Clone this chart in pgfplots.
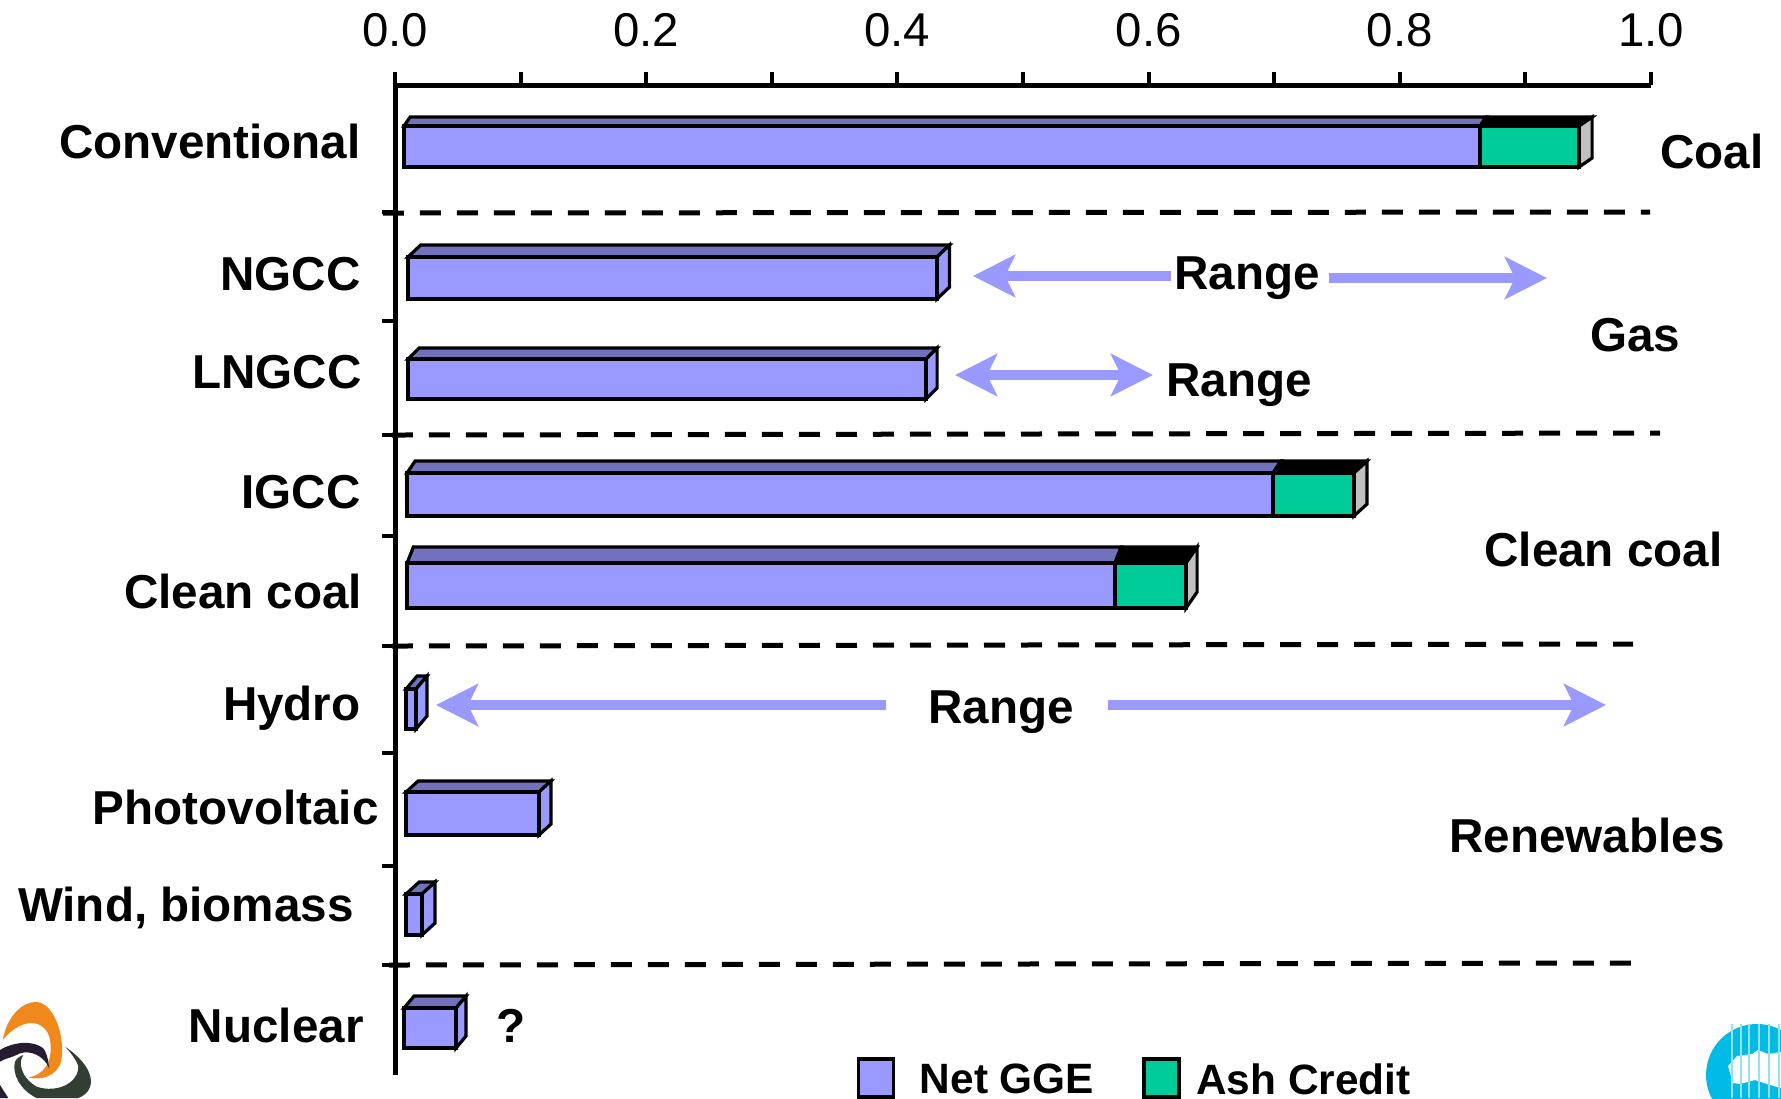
\documentclass[border=0pt]{standalone}
\usepackage{pgfplots}
\pgfplotsset{compat=1.18}
\usepackage{fontspec}
\setmainfont{Liberation Sans}
\usetikzlibrary{arrows.meta}

\definecolor{netgge}{HTML}{9999FF}
\definecolor{netggetop}{HTML}{7272BC}
\definecolor{ash}{HTML}{00CC99}
\definecolor{ashside}{HTML}{C0C0C0}
\definecolor{rangearrow}{HTML}{9999FF}

% Lengths on the page: one unit of the row scale is half a point.
\newcommand{\lbl}{\fontsize{23.8}{28}\selectfont\bfseries}

% Plain bar: x start, x end, row of front top, row of bottom, depth in x, depth in rows
\newcommand{\netbar}[6]{%
  \pgfmathsetmacro{\xl}{#1+#5}\pgfmathsetmacro{\xr}{#2+#5}%
  \pgfmathsetmacro{\yt}{#3-#6}\pgfmathsetmacro{\yb}{#4-#6}%
  \addplot[facet, fill=netggetop] coordinates {(#1,#3) (\xl,\yt) (\xr,\yt) (#2,#3)} --cycle;
  \addplot[facet, fill=netgge] coordinates {(#2,#3) (\xr,\yt) (\xr,\yb) (#2,#4)} --cycle;
  \addplot[facet, fill=netgge] coordinates {(#1,#3) (#2,#3) (#2,#4) (#1,#4)} --cycle;
}
% Two-part bar: x start, x split, x end, row of front top, row of bottom,
% depth in x, depth in rows, depth in x of the top face at its left end and at the split
\newcommand{\ashbar}[8]{%
  \pgfmathsetmacro{\xl}{#1+#8}\pgfmathsetmacro{\xm}{#2+#8}\pgfmathsetmacro{\xr}{#3+#6}%
  \pgfmathsetmacro{\yt}{#4-#7}\pgfmathsetmacro{\yb}{#5-#7}%
  \addplot[facet, fill=netggetop] coordinates {(#1,#4) (\xl,\yt) (\xm,\yt) (#2,#4)} --cycle;
  \addplot[facet, fill=black] coordinates {(#2,#4) (\xm,\yt) (\xr,\yt) (#3,#4)} --cycle;
  \addplot[facet, fill=ashside] coordinates {(#3,#4) (\xr,\yt) (\xr,\yb) (#3,#5)} --cycle;
  \addplot[facet, fill=netgge] coordinates {(#1,#4) (#2,#4) (#2,#5) (#1,#5)} --cycle;
  \addplot[facet, fill=ash] coordinates {(#2,#4) (#3,#4) (#3,#5) (#2,#5)} --cycle;
}

\begin{document}
\begin{tikzpicture}
\path[use as bounding box] (0,0) rectangle (890.5pt,-549pt);

\begin{axis}[
  at={(197.5pt,-42.5pt)}, anchor=north west,
  scale only axis, width=628pt, height=495pt,
  xmin=0, xmax=1, ymin=85, ymax=1075, y dir=reverse,
  clip=false,
  axis x line=top, axis y line=left,
  axis line style={-, line width=2.5pt},
  xtick={0,0.2,0.4,0.6,0.8,1},
  minor x tick num=1,
  ytick={212,321,435,536,646,753,866,965},
  yticklabels={},
  tick align=outside,
  major tick length=6.5pt, minor tick length=6.5pt,
  every tick/.style={black, line width=2pt},
  xticklabel style={font=\fontsize{23.7}{28}\selectfont, yshift=9pt},
  /pgf/number format/.cd, fixed, fixed zerofill, precision=1, assume math mode=true,
  /pgfplots/.cd,
  facet/.style={draw=black, line width=1.6pt, line join=miter, no markers},
  divider/.style={black, line width=2.5pt, dash pattern=on 10.5pt off 8pt, no markers},
  legend image code/.code={\draw[#1, line width=1.8pt] (0pt,-8.35pt) rectangle (17.5pt,10.65pt);},
  legend style={at={(axis cs:0.3625,1079.3)}, anchor=west, draw=none, fill=none,
    legend columns=2, font=\fontsize{21.2}{25}\selectfont\bfseries,
    /tikz/column 1/.style={column sep=10.3pt},
    /tikz/column 2/.style={column sep=22pt},
    /tikz/column 3/.style={column sep=5.7pt}},
  legend cell align=left,
]
\addlegendimage{fill=netgge, draw=black}
\addlegendentry{Net GGE}
\addlegendimage{fill=ash, draw=black}
\addlegendentry{Ash Credit}

% Separators between the plant families
\addplot[divider] coordinates {(-0.0096,213) (0.9992,212)};
\addplot[divider] coordinates {(-0.0024,435) (1.0072,433)};
\addplot[divider] coordinates {(-0.0024,646) (0.9857,644)};
\addplot[divider] coordinates {(-0.0048,965) (0.9857,963)};

% Bars
\ashbar{0.0072}{0.8639}{0.9427}{126}{167}{0.0104}{9}{0.0048}
\netbar{0.0104}{0.4315}{257}{299}{0.0100}{12}
\netbar{0.0104}{0.4228}{359}{399}{0.0088}{11}
\ashbar{0.0096}{0.6990}{0.7635}{473}{516}{0.0104}{12}{0.0064}
\ashbar{0.0096}{0.5732}{0.6298}{563}{608}{0.0088}{16}{0.0050}
\netbar{0.0088}{0.0167}{689}{729}{0.0088}{13}
\netbar{0.0088}{0.1146}{792}{835}{0.0096}{11}
\netbar{0.0088}{0.0215}{894}{935}{0.0104}{12}
\netbar{0.0072}{0.0486}{1008}{1048}{0.0080}{12}
\end{axis}

\begin{scope}[x=0.5pt, y=-0.5pt]
  % Category names
  \begin{scope}[every node/.style={inner sep=0pt, anchor=base east, font=\lbl}]
    \node at (361,158) {Conventional};
    \node at (361,290) {NGCC};
    \node at (362,388) {LNGCC};
    \node at (361,508) {IGCC};
    \node at (362.5,608) {Clean coal};
    \node at (361,720) {Hydro};
    \node at (379,824) {Photovoltaic};
    \node at (354,921) {Wind, biomass};
    \node at (364,1042) {Nuclear};
  \end{scope}
  % Family names, range notes
  \begin{scope}[every node/.style={inner sep=0pt, anchor=base west, font=\lbl}]
    \node at (1660,168.5) {Coal};
    \node at (1590,351) {Gas};
    \node at (1484,566) {Clean coal};
    \node at (1449,852) {Renewables};
    \node at (1174,289) {Range};
    \node at (1166,396) {Range};
    \node at (928,723) {Range};
    \node at (496,1042) {?};
  \end{scope}
  % Range arrows
  \begin{scope}[draw=rangearrow, line width=5pt,
      >={Stealth[length=21pt, width=21pt, inset=5pt]}]
    \draw[<-] (973,276) -- (1171,276);
    \draw[->] (1329,278) -- (1547,278);
    \draw[<->] (955,375) -- (1153,375);
    \draw[<-] (436,705) -- (886,705);
    \draw[->] (1108,705) -- (1606,705);
  \end{scope}

  % Emblem, lower left corner
  \begin{scope}
    \clip (0,990) rectangle (108,1098);
    \begin{scope}[shift={(0,990)}, x=0.1667pt, y=-0.1667pt]
      \fill[color={rgb,255:red,240;green,136;blue,28}]
        (8,150) .. controls (25,60) and (90,20) .. (130,42)
        .. controls (175,70) and (195,160) .. (183,215)
        .. controls (170,260) and (120,272) .. (85,262)
        .. controls (135,255) and (160,210) .. (150,150)
        .. controls (140,90) and (70,75) .. (8,150) -- cycle;
      \fill[color={rgb,255:red,38;green,28;blue,48}]
        (0,180) .. controls (40,155) and (100,150) .. (130,175)
        .. controls (145,195) and (145,225) .. (148,235)
        .. controls (130,195) and (90,180) .. (60,190)
        .. controls (30,205) and (15,205) .. (0,215) -- cycle;
      \fill[color={rgb,255:red,50;green,62;blue,52}]
        (195,170) .. controls (285,230) and (295,300) .. (235,324)
        -- (110,324) .. controls (60,300) and (35,250) .. (45,215)
        .. controls (50,205) and (60,198) .. (70,195)
        .. controls (55,215) and (60,260) .. (110,290)
        .. controls (170,310) and (235,280) .. (235,230)
        .. controls (230,210) and (210,185) .. (195,170) -- cycle;
      \fill[color={rgb,255:red,38;green,28;blue,48}]
        (0,285) -- (25,324) -- (0,324) -- cycle;
    \end{scope}
  \end{scope}

  % Emblem, lower right corner
  \begin{scope}
    \clip (1690,1008) rectangle (1781,1098);
    \fill[color={rgb,255:red,0;green,187;blue,230}] (1757,1075) circle (51);
    \fill[white] (1728,1066) -- (1737,1056) -- (1752,1054) -- (1758,1050) -- (1768,1054)
      -- (1781,1052) -- (1781,1088) -- (1770,1085) -- (1755,1080) -- (1740,1084) -- (1733,1083) -- cycle;
    \foreach \s in {1732,1741,1749,1759,1769,1779}
      \draw[color={rgb,255:red,150;green,225;blue,243}, line width=1pt] (\s,1024) -- (\s,1098);
  \end{scope}
\end{scope}
\end{tikzpicture}
\end{document}
